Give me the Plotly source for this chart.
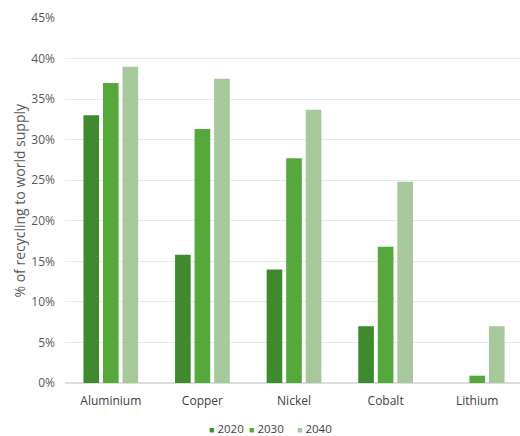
import plotly.graph_objects as go

categories = ["Aluminium", "Copper", "Nickel", "Cobalt", "Lithium"]
years = ["2020", "2030", "2040"]
values_2020 = [33, 15.8, 14, 7, 0]
values_2030 = [37, 31.3, 27.7, 16.8, 0.9]
values_2040 = [39, 37.5, 33.7, 24.8, 7]
tick_vals = [0, 5, 10, 15, 20, 25, 30, 35, 40, 45]
tick_text = [f"{v}%" for v in tick_vals]

series = [values_2020, values_2030, values_2040]
colors = ["#3d8b2c", "#55a83a", "#a6c89b"]

fig = go.Figure()
for name, vals, col in zip(years, series, colors):
    fig.add_trace(go.Bar(x=categories, y=vals, name=name, marker_color=col,
                         marker_line_width=0, showlegend=False))

# Legend built as text annotations (small square markers + year)
legend_x = [0.313, 0.399, 0.505]
for lx, name, col in zip(legend_x, years, colors):
    fig.add_annotation(xref="paper", yref="paper", x=lx, y=-0.126,
                       xanchor="left", yanchor="middle", showarrow=False,
                       text=f"<span style='color:{col};font-size:9px'>■</span> {name}",
                       font=dict(size=11.5, color="#404040"))

fig.add_annotation(xref="paper", yref="paper", x=-0.101, y=0.5,
                   xanchor="center", yanchor="middle", showarrow=False,
                   textangle=-90, text="% of recycling to world supply",
                   font=dict(size=14, color="#595959"))

fig.update_layout(
    width=520, height=436,
    margin=dict(l=65, r=0, t=18, b=53),
    paper_bgcolor="white", plot_bgcolor="white",
    barmode="group", bargap=0.36, bargroupgap=0.2,
    font=dict(family="Open Sans, sans-serif", size=11, color="#595959"),
    showlegend=False,
    xaxis=dict(range=[-0.5, 4.467], showgrid=False, showline=False, ticks="",
               automargin=False, ticklabelstandoff=9,
               tickfont=dict(size=12, color="#404040")),
    yaxis=dict(range=[0, 45], tickvals=tick_vals, ticktext=tick_text,
               showgrid=True, gridcolor="#e8e8e8", gridwidth=1,
               zeroline=True, zerolinecolor="#dddddd", showline=False, ticks="",
               automargin=False, ticklabelstandoff=9,
               tickfont=dict(size=12, color="#595959")),
)

fig.write_html("out.html", config={"displayModeBar": False},
               post_script="document.body.style.margin='0';document.body.style.overflow='hidden';")
